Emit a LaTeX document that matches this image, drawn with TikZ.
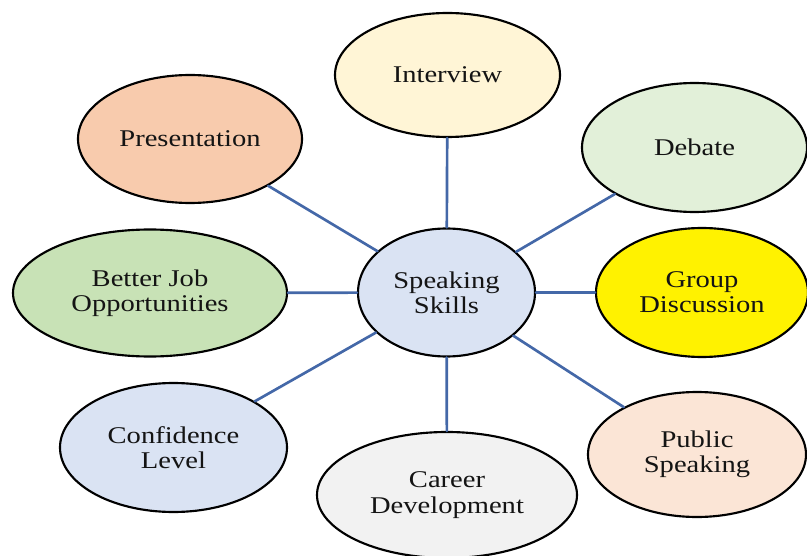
\documentclass[tikz,border=0pt]{standalone}
\usepackage{fontspec}
\setmainfont{Liberation Serif}[FakeStretch=1.19]
\usetikzlibrary{shapes.geometric}
\definecolor{linkblue}{RGB}{68,104,168}
\definecolor{txtgray}{RGB}{20,20,20}
\definecolor{skillblue}{RGB}{218,227,243}
\definecolor{cream}{RGB}{255,245,214}
\definecolor{peach}{RGB}{248,203,173}
\definecolor{palegreen}{RGB}{226,240,217}
\definecolor{midgreen}{RGB}{200,226,182}
\definecolor{lightgray}{RGB}{242,242,242}
\definecolor{palepeach}{RGB}{251,229,214}
\tikzset{
  bubble/.style={ellipse, draw=black, line width=1.6pt, inner sep=0pt, align=center, text=txtgray},
  link/.style={draw=linkblue, line width=2pt}
}
\begin{document}
\begin{tikzpicture}[x=.75pt, y=-.75pt, font=\fontsize{18}{19}\selectfont, line join=round, line cap=round]
\useasboundingbox (0,0) rectangle (807,556);
\path
(446.5,292.5) node[bubble, fill=skillblue, minimum width=132.75pt, minimum height=96pt] (S) {Speaking\\Skills}
(447.5,75) node[bubble, fill=cream, minimum width=168.75pt, minimum height=93pt] (I) {Interview}
(190,139) node[bubble, fill=peach, minimum width=168pt, minimum height=96pt] (P) {Presentation}
(694.5,147.5) node[bubble, fill=palegreen, minimum width=168.75pt, minimum height=96.75pt] (D) {Debate}
(150,293) node[bubble, fill=midgreen, minimum width=205.5pt, minimum height=95.25pt] (B) {Better Job\\Opportunities}
(702,292.5) node[bubble, fill=yellow, minimum width=159pt, minimum height=96.75pt] (G) {Group\\Discussion}
(173.5,447.5) node[bubble, fill=skillblue, minimum width=170.25pt, minimum height=96.75pt] (C) {Confidence\\Level}
(447,495) node[bubble, fill=lightgray, minimum width=195pt, minimum height=94.5pt] (K) {Career\\Development}
(697,454.5) node[bubble, fill=palepeach, minimum width=163.5pt, minimum height=93.75pt] (U) {Public\\Speaking}
;
\foreach \p in {I,P,D,B,G,C,K,U}
\draw[link] (S)--(\p);
\end{tikzpicture}
\end{document}
